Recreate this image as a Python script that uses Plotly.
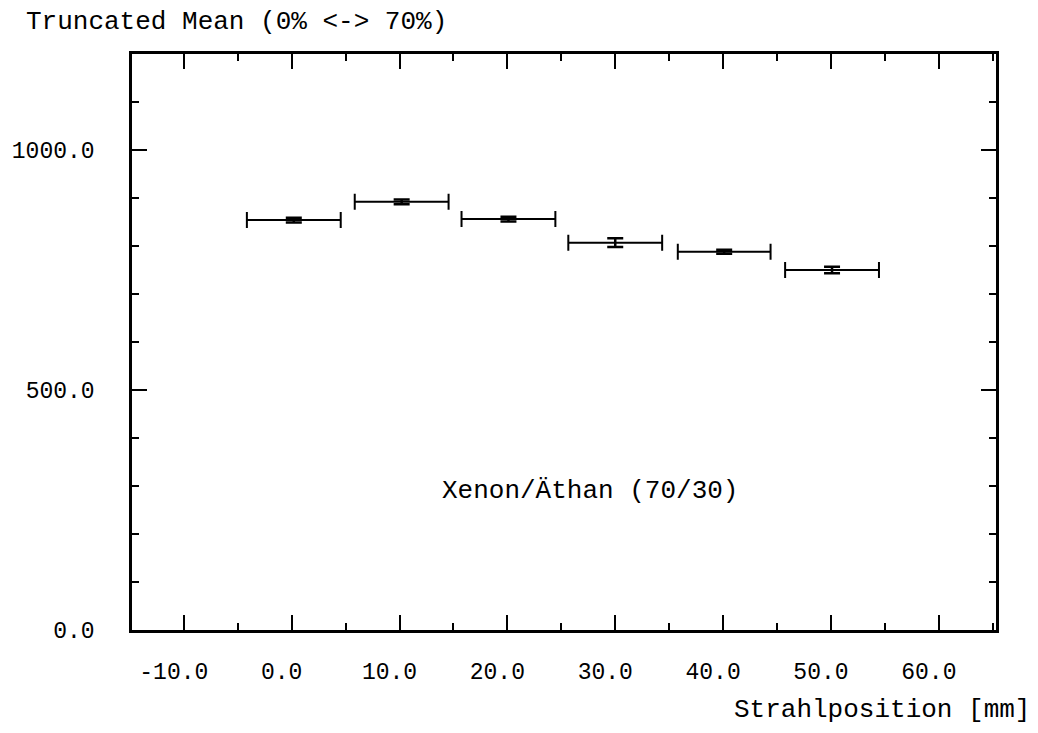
import plotly.graph_objects as go

# Strahlposition (mm), bin half-widths and truncated mean values
positions = [0.2, 10.2, 20.1, 30.0, 40.1, 50.1]
half_widths = [4.35, 4.35, 4.35, 4.35, 4.3, 4.35]
trunc_mean = [854, 892, 856, 807, 788, 750]
mean_err = [5, 5, 5, 9, 4, 7]

x_ticks = [-10, 0, 10, 20, 30, 40, 50, 60]
x_tick_text = ["-10.0", "0.0", "10.0", "20.0", "30.0", "40.0", "50.0", "60.0"]
y_ticks = [0, 500, 1000]
y_tick_text = ["0.0", "500.0", "1000.0"]

FONT = "Liberation Mono"

fig = go.Figure()
fig.add_trace(go.Scatter(
    x=positions, y=trunc_mean, mode="markers",
    marker=dict(size=1, color="black"),
    error_x=dict(type="data", array=half_widths, visible=True,
                 color="black", thickness=2, width=8),
    error_y=dict(type="data", array=mean_err, visible=True,
                 color="black", thickness=2.5, width=8),
    showlegend=False, hoverinfo="skip",
))

axis_common = dict(
    showline=True, linecolor="black", linewidth=2.5, mirror="ticks",
    ticks="inside", tickcolor="black", tickwidth=2,
    showgrid=False, zeroline=False,
    tickfont=dict(family=FONT, size=23, color="black"),
)

fig.update_xaxes(
    range=[-14.8, 65.3], tickvals=x_ticks, ticktext=x_tick_text,
    ticklen=15, ticklabelshift=-10, ticklabelstandoff=19,
    minor=dict(dtick=5, tick0=0, ticks="inside", ticklen=7,
               tickcolor="black", tickwidth=2),
    **axis_common,
)
fig.update_yaxes(
    range=[0, 1200], tickvals=y_ticks, ticktext=y_tick_text,
    ticklen=15, ticklabelstandoff=30,
    minor=dict(dtick=100, tick0=0, ticks="inside", ticklen=7,
               tickcolor="black", tickwidth=2),
    **axis_common,
)

fig.add_annotation(
    text="Truncated Mean (0% <-> 70%)", xref="paper", yref="paper",
    x=-0.1245, y=1.0556, xanchor="left", yanchor="middle", showarrow=False,
    font=dict(family=FONT, size=26, color="black"),
)
fig.add_annotation(
    text="Strahlposition [mm]", xref="paper", yref="paper",
    x=1.0415, y=-0.139, xanchor="right", yanchor="middle", showarrow=False,
    font=dict(family=FONT, size=26, color="black"),
)
fig.add_annotation(
    text="Xenon/Äthan (70/30)", xref="x", yref="y",
    x=27.7, y=290, xanchor="center", yanchor="middle", showarrow=False,
    font=dict(family=FONT, size=26, color="black"),
)

fig.update_layout(
    width=1038, height=733,
    margin=dict(l=128, r=42, t=54, b=103),
    paper_bgcolor="white", plot_bgcolor="white",
)

fig.write_html("out.html")
